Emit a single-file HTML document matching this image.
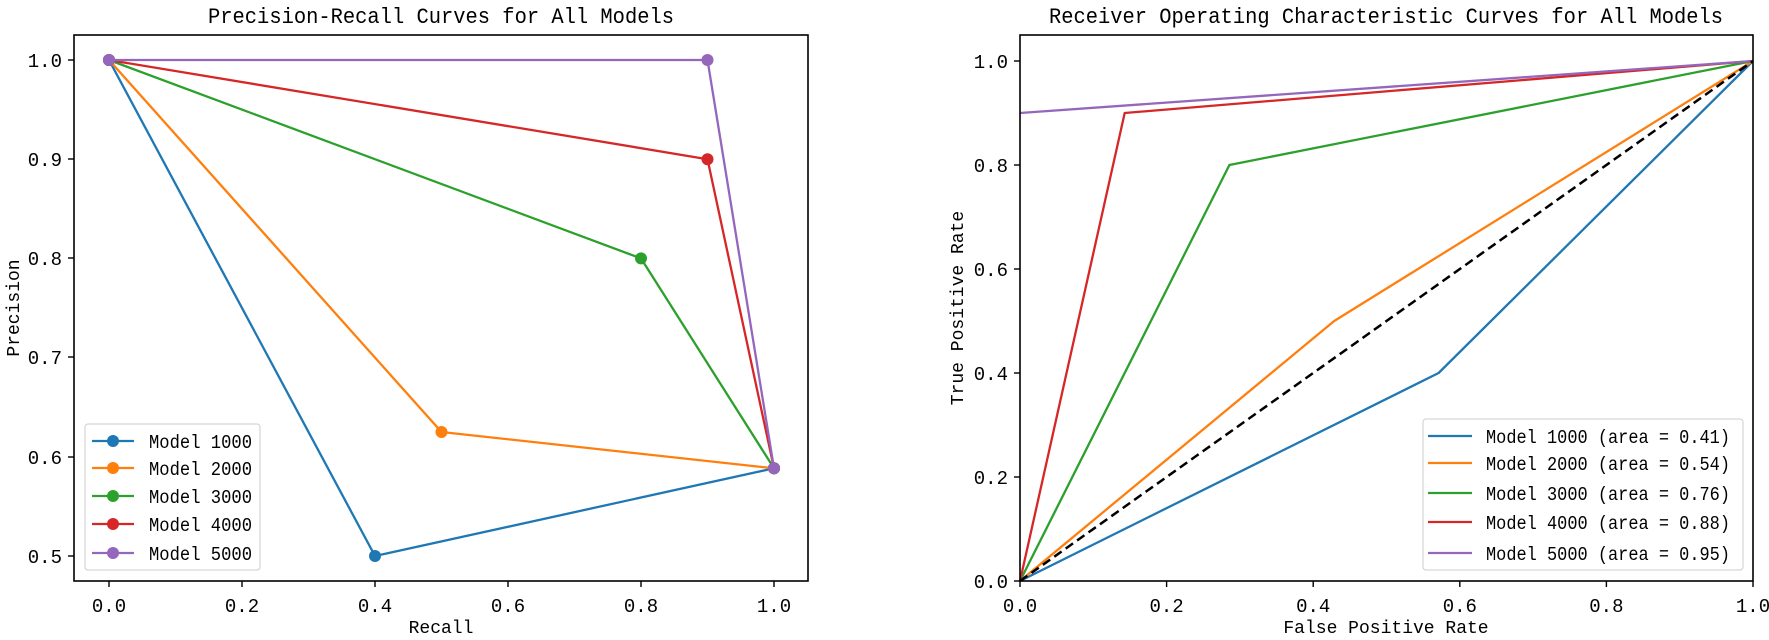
<!DOCTYPE html>
<html><head><meta charset="utf-8"><style>html,body{margin:0;padding:0;background:#fff}svg{display:block}text{font-family:"Liberation Mono","Noto Sans CJK SC",monospace;fill:#000}</style></head><body>
<svg width="1769" height="640" viewBox="0 0 1769 640" xmlns="http://www.w3.org/2000/svg">
<rect width="1769" height="640" fill="#fff"/>
<!-- LEFT -->
<text x="441" y="23" font-size="22" text-anchor="middle" textLength="466" lengthAdjust="spacingAndGlyphs">Precision-Recall Curves for All Models</text>
<g fill="none" stroke-width="2.3" stroke-linejoin="round">
<polyline stroke="#1f77b4" points="109,60 375,556 774,468.3"/>
<polyline stroke="#ff7f0e" points="109,60 441.5,432 774,468.3"/>
<polyline stroke="#2ca02c" points="109,60 641,258.4 774,468.3"/>
<polyline stroke="#d62728" points="109,60 707.5,159.2 774,468.3"/>
<polyline stroke="#9467bd" points="109,60 707.5,60 774,468.3"/>
</g>
<g>
<circle cx="109" cy="60" r="6" fill="#1f77b4"/><circle cx="375" cy="556" r="6" fill="#1f77b4"/><circle cx="774" cy="468.3" r="6" fill="#1f77b4"/>
<circle cx="109" cy="60" r="6" fill="#ff7f0e"/><circle cx="441.5" cy="432" r="6" fill="#ff7f0e"/><circle cx="774" cy="468.3" r="6" fill="#ff7f0e"/>
<circle cx="109" cy="60" r="6" fill="#2ca02c"/><circle cx="641" cy="258.4" r="6" fill="#2ca02c"/><circle cx="774" cy="468.3" r="6" fill="#2ca02c"/>
<circle cx="109" cy="60" r="6" fill="#d62728"/><circle cx="707.5" cy="159.2" r="6" fill="#d62728"/><circle cx="774" cy="468.3" r="6" fill="#d62728"/>
<circle cx="109" cy="60" r="6" fill="#9467bd"/><circle cx="707.5" cy="60" r="6" fill="#9467bd"/><circle cx="774" cy="468.3" r="6" fill="#9467bd"/>
</g>
<rect x="74" y="35" width="734" height="546" fill="none" stroke="#000" stroke-width="1.6"/>
<g stroke="#000" stroke-width="1.4">
<line x1="109" y1="581" x2="109" y2="587"/><line x1="242" y1="581" x2="242" y2="587"/><line x1="375" y1="581" x2="375" y2="587"/><line x1="508" y1="581" x2="508" y2="587"/><line x1="641" y1="581" x2="641" y2="587"/><line x1="774" y1="581" x2="774" y2="587"/>
<line x1="68" y1="556" x2="74" y2="556"/><line x1="68" y1="457" x2="74" y2="457"/><line x1="68" y1="357" x2="74" y2="357"/><line x1="68" y1="258" x2="74" y2="258"/><line x1="68" y1="159" x2="74" y2="159"/><line x1="68" y1="60" x2="74" y2="60"/>
</g>
<g font-size="19" text-anchor="middle">
<text x="109" y="612">0.0</text><text x="242" y="612">0.2</text><text x="375" y="612">0.4</text><text x="508" y="612">0.6</text><text x="641" y="612">0.8</text><text x="774" y="612">1.0</text>
</g>
<g font-size="19" text-anchor="end">
<text x="62" y="563">0.5</text><text x="62" y="464">0.6</text><text x="62" y="364">0.7</text><text x="62" y="265">0.8</text><text x="62" y="166">0.9</text><text x="62" y="67">1.0</text>
</g>
<text x="441" y="633" font-size="18" text-anchor="middle">Recall</text>
<text transform="translate(19,308) rotate(-90)" font-size="18" text-anchor="middle">Precision</text>
<rect x="85" y="424" width="175" height="146" rx="3" fill="#fff" fill-opacity="0.85" stroke="#ccc" stroke-width="1"/>
<g stroke-width="2.3">
<line x1="92" y1="441" x2="134" y2="441" stroke="#1f77b4"/><circle cx="113" cy="441" r="6" fill="#1f77b4"/>
<line x1="92" y1="468" x2="134" y2="468" stroke="#ff7f0e"/><circle cx="113" cy="468" r="6" fill="#ff7f0e"/>
<line x1="92" y1="496" x2="134" y2="496" stroke="#2ca02c"/><circle cx="113" cy="496" r="6" fill="#2ca02c"/>
<line x1="92" y1="524" x2="134" y2="524" stroke="#d62728"/><circle cx="113" cy="524" r="6" fill="#d62728"/>
<line x1="92" y1="553" x2="134" y2="553" stroke="#9467bd"/><circle cx="113" cy="553" r="6" fill="#9467bd"/>
</g>
<g font-size="19">
<text x="149" y="448" textLength="103" lengthAdjust="spacingAndGlyphs">Model 1000</text>
<text x="149" y="475" textLength="103" lengthAdjust="spacingAndGlyphs">Model 2000</text>
<text x="149" y="503" textLength="103" lengthAdjust="spacingAndGlyphs">Model 3000</text>
<text x="149" y="531" textLength="103" lengthAdjust="spacingAndGlyphs">Model 4000</text>
<text x="149" y="560" textLength="103" lengthAdjust="spacingAndGlyphs">Model 5000</text>
</g>
<!-- RIGHT -->
<text x="1386" y="23" font-size="22" text-anchor="middle" textLength="674" lengthAdjust="spacingAndGlyphs">Receiver Operating Characteristic Curves for All Models</text>
<g fill="none" stroke-width="2.3" stroke-linejoin="round">
<polyline stroke="#1f77b4" points="1020,581 1438.6,373 1753,61"/>
<polyline stroke="#ff7f0e" points="1020,581 1334.2,321 1753,61"/>
<polyline stroke="#2ca02c" points="1020,581 1229.4,165 1753,61"/>
<polyline stroke="#d62728" points="1020,581 1124.7,113 1753,61"/>
<polyline stroke="#9467bd" points="1020,113 1753,61"/>
<line x1="1020" y1="581" x2="1753" y2="61" stroke="#000" stroke-dasharray="9,5" stroke-width="2.5"/>
</g>
<rect x="1020" y="35" width="733" height="546" fill="none" stroke="#000" stroke-width="1.6"/>
<g stroke="#000" stroke-width="1.4">
<line x1="1020" y1="581" x2="1020" y2="587"/><line x1="1166.6" y1="581" x2="1166.6" y2="587"/><line x1="1313.2" y1="581" x2="1313.2" y2="587"/><line x1="1459.8" y1="581" x2="1459.8" y2="587"/><line x1="1606.4" y1="581" x2="1606.4" y2="587"/><line x1="1753" y1="581" x2="1753" y2="587"/>
<line x1="1014" y1="581" x2="1020" y2="581"/><line x1="1014" y1="477" x2="1020" y2="477"/><line x1="1014" y1="373" x2="1020" y2="373"/><line x1="1014" y1="269" x2="1020" y2="269"/><line x1="1014" y1="165" x2="1020" y2="165"/><line x1="1014" y1="61" x2="1020" y2="61"/>
</g>
<g font-size="19" text-anchor="middle">
<text x="1020" y="612">0.0</text><text x="1166.6" y="612">0.2</text><text x="1313.2" y="612">0.4</text><text x="1459.8" y="612">0.6</text><text x="1606.4" y="612">0.8</text><text x="1753" y="612">1.0</text>
</g>
<g font-size="19" text-anchor="end">
<text x="1008" y="588">0.0</text><text x="1008" y="484">0.2</text><text x="1008" y="380">0.4</text><text x="1008" y="276">0.6</text><text x="1008" y="172">0.8</text><text x="1008" y="68">1.0</text>
</g>
<text x="1386" y="633" font-size="18" text-anchor="middle">False Positive Rate</text>
<text transform="translate(963,308) rotate(-90)" font-size="18" text-anchor="middle">True Positive Rate</text>
<rect x="1423" y="419" width="320" height="151" rx="3" fill="#fff" fill-opacity="0.85" stroke="#ccc" stroke-width="1"/>
<g stroke-width="2.3">
<line x1="1428" y1="436" x2="1472" y2="436" stroke="#1f77b4"/>
<line x1="1428" y1="463" x2="1472" y2="463" stroke="#ff7f0e"/>
<line x1="1428" y1="493" x2="1472" y2="493" stroke="#2ca02c"/>
<line x1="1428" y1="522" x2="1472" y2="522" stroke="#d62728"/>
<line x1="1428" y1="553" x2="1472" y2="553" stroke="#9467bd"/>
</g>
<g font-size="19">
<text x="1486" y="443" textLength="244" lengthAdjust="spacingAndGlyphs">Model 1000 (area = 0.41)</text>
<text x="1486" y="470" textLength="244" lengthAdjust="spacingAndGlyphs">Model 2000 (area = 0.54)</text>
<text x="1486" y="500" textLength="244" lengthAdjust="spacingAndGlyphs">Model 3000 (area = 0.76)</text>
<text x="1486" y="529" textLength="244" lengthAdjust="spacingAndGlyphs">Model 4000 (area = 0.88)</text>
<text x="1486" y="560" textLength="244" lengthAdjust="spacingAndGlyphs">Model 5000 (area = 0.95)</text>
</g>
</svg>
</body></html>
